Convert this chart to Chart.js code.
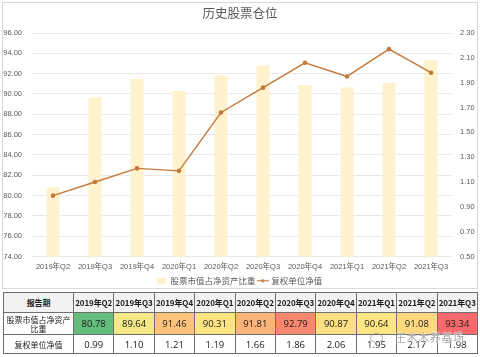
<!DOCTYPE html>
<html><head><meta charset="utf-8">
<script src="https://cdn.jsdelivr.net/npm/chart.js@4.4.1/dist/chart.umd.min.js"></script>
<style>
html,body{margin:0;padding:0;background:#fff;}
#wrap{position:relative;width:480px;height:357px;overflow:hidden;background:#fff;font-family:"Noto Sans CJK SC","Liberation Sans",sans-serif;}
#frame{position:absolute;left:2px;top:2px;width:474px;height:285px;border:1px solid #D9D9D9;}
#c{position:absolute;left:0;top:0;}
table{position:absolute;left:3px;top:292px;border-collapse:collapse;table-layout:fixed;width:475px;}
td{border:1px solid #6E6E6E;text-align:center;padding:0;font-size:9px;color:#1a1a1a;line-height:9px;white-space:nowrap;overflow:hidden;}
tr.h td{background:#F2F2F2;font-weight:bold;height:19px;font-size:8px;letter-spacing:-0.1px;}
tr.r2 td{height:21px;}
tr.r2 td.nm{font-size:8px;line-height:9px;}
tr.r3 td{height:18px;background:#fff;}
tr.r3 td.nm{font-size:8px;}
td.num{font-family:"Open Sans","Liberation Sans",sans-serif;font-size:9.5px;}
#wm{position:absolute;left:370px;top:329px;font-size:11px;color:rgba(140,140,140,0.75);text-shadow:0 0 1px #fff,0 0 2px #fff;letter-spacing:0.6px;white-space:nowrap;}
#wm i{display:inline-block;width:11px;height:8px;border:1.5px solid rgba(150,150,150,0.7);border-radius:50%;margin-right:12px;vertical-align:-1px;}
</style></head>
<body><div id="wrap">
<div id="frame"></div>
<canvas id="c" width="480" height="295"></canvas>
<table id="tbl"></table>
<div id="wm"><i></i>王木木养基场</div>
</div>
<script>
const categories = ["2019年Q2","2019年Q3","2019年Q4","2020年Q1","2020年Q2","2020年Q3","2020年Q4","2021年Q1","2021年Q2","2021年Q3"];
const stockRatio = [80.78, 89.64, 91.46, 90.31, 91.81, 92.79, 90.87, 90.64, 91.08, 93.34];
const adjNav = [0.99, 1.10, 1.21, 1.19, 1.66, 1.86, 2.06, 1.95, 2.17, 1.98];
const ratioColors = ["#63BE7B","#F3E884","#FDC37D","#FDE583","#FBB47A","#F8876F","#FEDF82","#FEE683","#FFD880","#F8696B"];
const seriesNames = ["股票市值占净资产比重","复权单位净值"];
const tableHeader = "报告期";
const rowNames = ["股票市值占净资产<br>比重","复权单位净值"];

const BAR = "#FFF2CC", LINE = "#C4793C", GRID = "#E9E9E9", TXT = "#595959";

// table
(function(){
  const t = document.getElementById('tbl');
  let cols = '<colgroup><col style="width:70px">' + categories.map(()=>'<col>').join('') + '</colgroup>';
  let h = '<tr class="h"><td>'+tableHeader+'</td>' + categories.map(c=>'<td>'+c+'</td>').join('') + '</tr>';
  let r2 = '<tr class="r2"><td class="nm">'+rowNames[0]+'</td>' + stockRatio.map((v,i)=>'<td class="num" style="background:'+ratioColors[i]+'">'+v.toFixed(2)+'</td>').join('') + '</tr>';
  let r3 = '<tr class="r3"><td class="nm">'+rowNames[1]+'</td>' + adjNav.map(v=>'<td class="num">'+v.toFixed(2)+'</td>').join('') + '</tr>';
  t.innerHTML = cols + h + r2 + r3;
})();

function mkIcon(kind){
  const cv = document.createElement('canvas');
  if(kind==='bar'){ cv.width=9; cv.height=6; const g=cv.getContext('2d'); g.fillStyle=BAR; g.fillRect(0,0,9,6); }
  else { cv.width=12; cv.height=5; const g=cv.getContext('2d'); g.strokeStyle=LINE; g.lineWidth=1.2; g.beginPath(); g.moveTo(0,2.5); g.lineTo(12,2.5); g.stroke(); g.fillStyle=LINE; g.beginPath(); g.arc(6,2.5,1.6,0,Math.PI*2); g.fill(); }
  return cv;
}
const icons = [mkIcon('bar'), mkIcon('line')];

new Chart(document.getElementById('c'), {
  data: {
    labels: categories,
    datasets: [
      { type:'bar', label: seriesNames[0], data: stockRatio, backgroundColor: BAR, yAxisID:'y', order:2, barPercentage:0.31, categoryPercentage:1.0 },
      { type:'line', label: seriesNames[1], data: adjNav, borderColor: LINE, backgroundColor: LINE, borderWidth:1.4, pointRadius:1.6, pointHoverRadius:2, tension:0, yAxisID:'y1', order:1 }
    ]
  },
  options: {
    responsive:false, animation:false, devicePixelRatio:1,
    layout:{padding:{left:0,right:0,top:0,bottom:0}},
    plugins:{
      tooltip:{enabled:false},
      title:{display:true, text:'历史股票仓位', color:TXT, font:{family:'"Noto Sans CJK SC"', size:12.5, weight:'normal'}, padding:{top:6,bottom:12}},
      legend:{position:'bottom', labels:{
        usePointStyle:true, boxWidth:9, boxHeight:6, padding:3, color:TXT,
        font:{family:'"Noto Sans CJK SC"', size:8.5},
        generateLabels:(chart)=>seriesNames.map((n,i)=>({text:n, pointStyle:icons[i], fillStyle:i?LINE:BAR, strokeStyle:'transparent', lineWidth:0, datasetIndex:i, fontColor:TXT}))
      }}
    },
    scales:{
      x:{ grid:{display:false, drawTicks:false}, border:{display:false},
          ticks:{color:TXT, font:{family:'"Liberation Sans","Noto Sans CJK SC"', size:7.5}, padding:6, maxRotation:0, autoSkip:false},
          afterFit:(s)=>{ s.height = 17; } },
      y:{ position:'left', min:74, max:96, grid:{color:GRID, drawTicks:false}, border:{display:false},
          ticks:{stepSize:2, color:TXT, padding:10, font:{family:'"Liberation Sans"', size:7.5}, callback:(v)=>v.toFixed(2)},
          afterFit:(s)=>{ s.width = 32; } },
      y1:{ position:'right', min:0.5, max:2.3, grid:{display:false, drawTicks:false}, border:{display:false},
          ticks:{stepSize:0.2, color:TXT, padding:8, font:{family:'"Liberation Sans"', size:7.5}, callback:(v)=>v.toFixed(2)},
          afterFit:(s)=>{ s.width = 28; } }
    }
  }
});
</script>
</body></html>
